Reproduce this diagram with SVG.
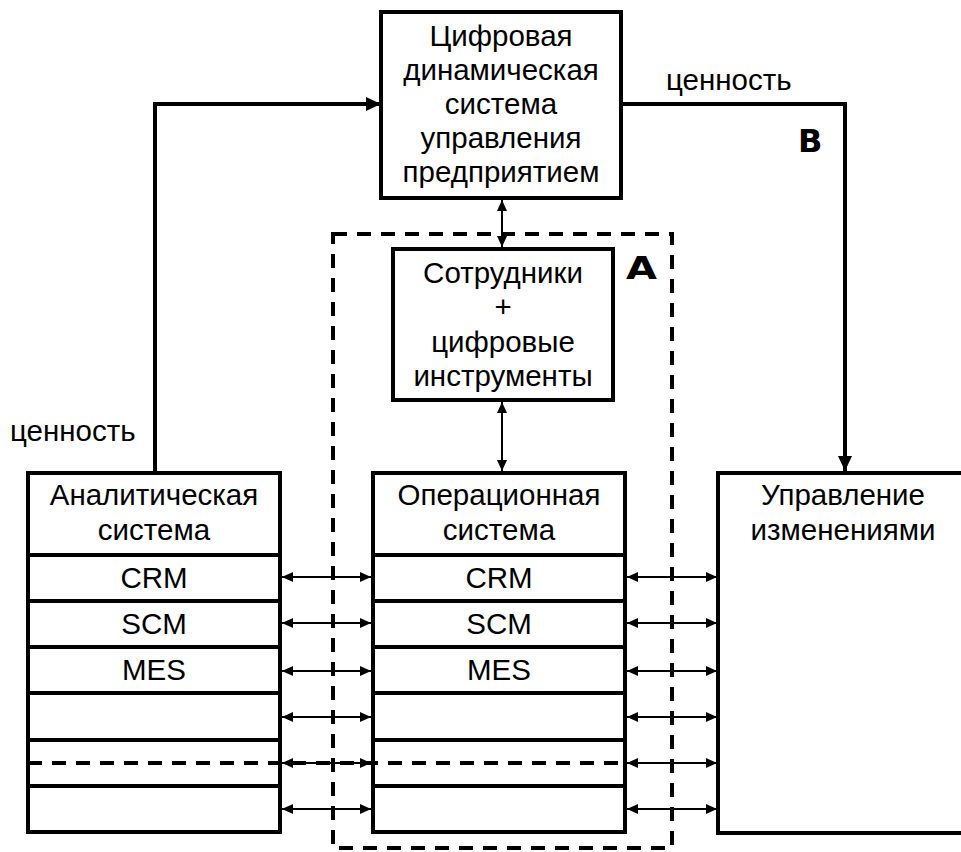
<svg xmlns="http://www.w3.org/2000/svg" width="961" height="852" viewBox="0 0 961 852">
<defs>
<marker id="ah" markerUnits="userSpaceOnUse" markerWidth="12" markerHeight="10" refX="11" refY="5" orient="auto-start-reverse">
<path d="M0,0 L11,5 L0,10 Z" fill="#000"/>
</marker>
<marker id="ahb" markerUnits="userSpaceOnUse" markerWidth="16" markerHeight="14" refX="15" refY="7" orient="auto">
<path d="M0,0 L15,7 L0,14 Z" fill="#000"/>
</marker>
</defs>
<style>
.box{fill:#fff;stroke:#000;stroke-width:4}
.ln{stroke:#000;stroke-width:4;fill:none}
.dash{stroke:#000;stroke-width:4;fill:none;stroke-dasharray:14 10}
.bi{stroke:#000;stroke-width:2;fill:none;marker-start:url(#ah);marker-end:url(#ah)}
.val{stroke:#000;stroke-width:4;fill:none;marker-end:url(#ahb)}
text{font-family:"Liberation Sans",Arial,sans-serif;font-size:29.5px;fill:#000;text-anchor:middle}
.lb{font-family:"DejaVu Sans","Liberation Sans",sans-serif;font-weight:bold;font-size:32px;text-anchor:start}
.st{text-anchor:start}
</style>
<rect width="961" height="852" fill="#fff"/>
<g id="connectors">
<path class="val" d="M155,472 V104 H381"/>
<path class="val" d="M621,104 H845 V471"/>
<line class="bi" x1="502" y1="200" x2="502" y2="247"/>
<line class="bi" x1="502" y1="402" x2="502" y2="471"/>
<line class="bi" x1="282" y1="577" x2="371" y2="577"/>
<line class="bi" x1="282" y1="623" x2="371" y2="623"/>
<line class="bi" x1="282" y1="671" x2="371" y2="671"/>
<line class="bi" x1="282" y1="717" x2="371" y2="717"/>
<line class="bi" x1="282" y1="763" x2="371" y2="763"/>
<line class="bi" x1="282" y1="809" x2="371" y2="809"/>
<line class="bi" x1="627" y1="577" x2="717" y2="577"/>
<line class="bi" x1="627" y1="623" x2="717" y2="623"/>
<line class="bi" x1="627" y1="671" x2="717" y2="671"/>
<line class="bi" x1="627" y1="717" x2="717" y2="717"/>
<line class="bi" x1="627" y1="763" x2="717" y2="763"/>
<line class="bi" x1="627" y1="809" x2="717" y2="809"/>
</g>
<g id="zoneA">
<rect class="dash" x="333" y="234" width="339" height="614"/>
<text class="lb" x="626" y="279" transform="translate(626 0) scale(1.25 1) translate(-626 0)">A</text>
</g>
<g id="labels">
<text class="st" x="10" y="441">ценность</text>
<text class="st" x="666" y="90">ценность</text>
<text class="lb" x="798" y="152">B</text>
</g>
<g id="top">
<rect class="box" x="381" y="12" width="240" height="186"/>
<text x="501" y="46">Цифровая<tspan x="501" dy="34">динамическая</tspan><tspan x="501" dy="34">система</tspan><tspan x="501" dy="34">управления</tspan><tspan x="501" dy="34">предприятием</tspan></text>
</g>
<g id="staff">
<rect class="box" x="393" y="249" width="220" height="151"/>
<text x="503" y="283">Сотрудники<tspan x="503" dy="34">+</tspan><tspan x="503" dy="35">цифровые</tspan><tspan x="503" dy="34">инструменты</tspan></text>
</g>
<g id="analytic">
<rect class="box" x="28" y="473" width="252" height="359"/>
<line class="ln" x1="28" y1="555" x2="280" y2="555"/>
<line class="ln" x1="28" y1="601" x2="280" y2="601"/>
<line class="ln" x1="28" y1="647" x2="280" y2="647"/>
<line class="ln" x1="28" y1="693" x2="280" y2="693"/>
<line class="ln" x1="28" y1="740" x2="280" y2="740"/>
<line class="ln" x1="28" y1="786" x2="280" y2="786"/>
<text x="154" y="505">Аналитическая<tspan x="154" dy="35">система</tspan></text>
<text x="154" y="588">CRM</text>
<text x="154" y="634">SCM</text>
<text x="154" y="680">MES</text>
</g>
<g id="operational">
<rect class="box" x="373" y="473" width="252" height="359"/>
<line class="ln" x1="373" y1="555" x2="625" y2="555"/>
<line class="ln" x1="373" y1="601" x2="625" y2="601"/>
<line class="ln" x1="373" y1="647" x2="625" y2="647"/>
<line class="ln" x1="373" y1="693" x2="625" y2="693"/>
<line class="ln" x1="373" y1="740" x2="625" y2="740"/>
<line class="ln" x1="373" y1="786" x2="625" y2="786"/>
<text x="499" y="505">Операционная<tspan x="499" dy="35">система</tspan></text>
<text x="499" y="588">CRM</text>
<text x="499" y="634">SCM</text>
<text x="499" y="680">MES</text>
</g>
<g id="divider">
<line class="dash" x1="28" y1="763" x2="625" y2="763" stroke-dasharray="16 13"/>
</g>
<g id="change">
<path class="ln" d="M961,473 H718 V833 H961"/>
<text x="843" y="505">Управление<tspan x="843" dy="35">изменениями</tspan></text>
</g>
</svg>
